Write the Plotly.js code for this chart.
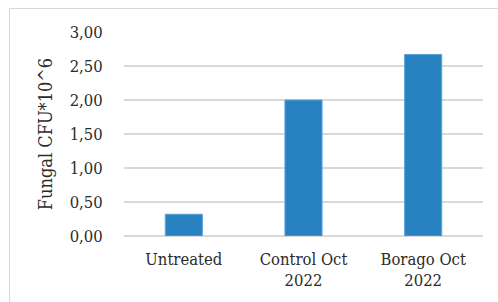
<!DOCTYPE html>
<html>
<head>
<meta charset="utf-8">
<script src="https://cdn.plot.ly/plotly-3.0.1.min.js"></script>
<style>
  html, body { margin: 0; padding: 0; background: #fff; }
  #frame { position: absolute; left: 9px; top: 8px; width: 489px; height: 294px;
           border-left: 1px solid #d9d9d9; border-top: 1px solid #d9d9d9; box-sizing: border-box; }
  #chart { position: absolute; left: 0; top: 0; width: 498px; height: 302px; }
</style>
</head>
<body>
<div id="frame"></div>
<div id="chart"></div>
<script>
const categories = ["Untreated", "Control Oct<br>2022", "Borago Oct<br>2022"];
const values = [0.32, 2.00, 2.67];
const tickValues = [0, 0.5, 1, 1.5, 2, 2.5, 3];
const tickLabels = ["0,00", "0,50", "1,00", "1,50", "2,00", "2,50", "3,00"];

const font = { family: "DejaVu Serif Condensed", size: 16.5, color: "#2b2b2b" };
const titleFont = { family: "DejaVu Serif Condensed", size: 18, color: "#2b2b2b" };

Plotly.newPlot("chart", [{
  type: "bar",
  x: categories,
  y: values,
  marker: { color: "#2882c2", line: { color: "#5aa3d6", width: 1 } },
  hoverinfo: "none"
}], {
  width: 498, height: 302,
  margin: { l: 124, r: 15, t: 32, b: 66 },
  paper_bgcolor: "rgba(0,0,0,0)",
  plot_bgcolor: "rgba(0,0,0,0)",
  bargap: 0.69,
  font: font,
  showlegend: false,
  xaxis: {
    type: "category",
    tickfont: font,
    showgrid: false,
    showline: false,
    ticks: "outside", ticklen: 8, tickcolor: "rgba(0,0,0,0)",
    fixedrange: true
  },
  yaxis: {
    range: [0, 3],
    tickvals: tickValues,
    ticktext: tickLabels,
    tickfont: font,
    showgrid: true,
    gridcolor: "#d9d9d9",
    gridwidth: 1.5,
    zeroline: true,
    zerolinecolor: "#d9d9d9",
    zerolinewidth: 1.5,
    showline: false,
    ticks: "outside", ticklen: 17, tickcolor: "rgba(0,0,0,0)",
    title: { text: "Fungal CFU*10^6", font: titleFont, standoff: 12 },
    fixedrange: true
  }
}, { displayModeBar: false, staticPlot: true });
</script>
</body>
</html>
